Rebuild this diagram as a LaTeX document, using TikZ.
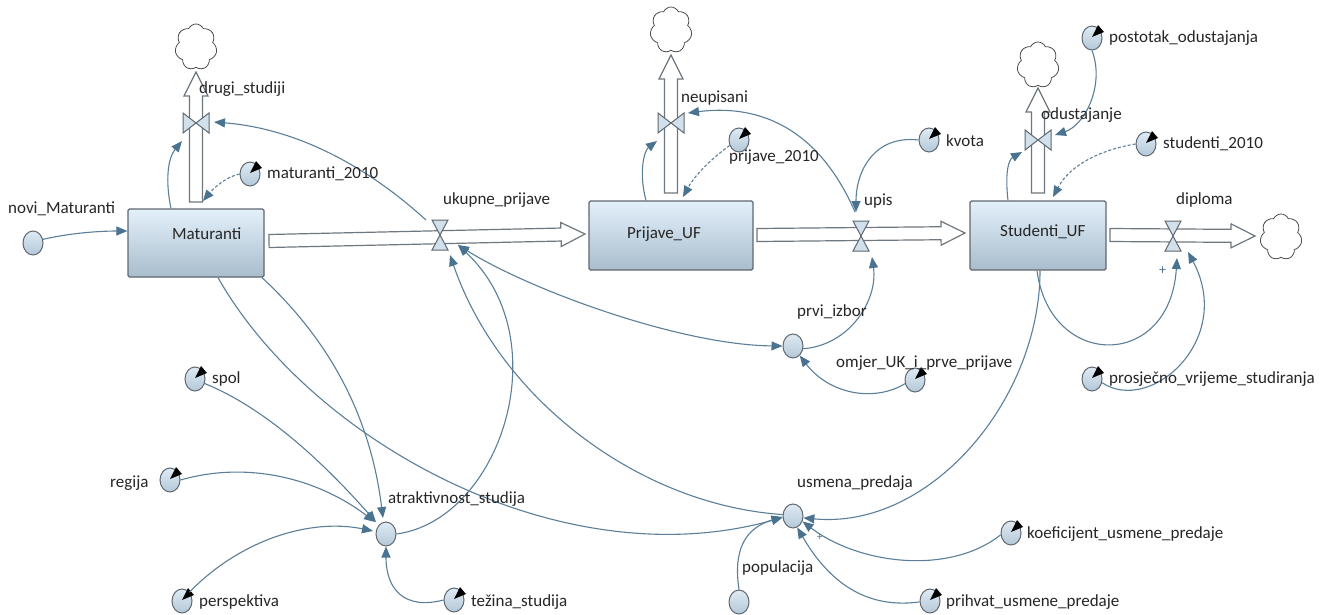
\documentclass[tikz,border=0pt]{standalone}
\usepackage{fontspec}
\setmainfont{Carlito}
\usetikzlibrary{calc,arrows.meta,shapes.symbols,shapes.geometric}
\definecolor{lnk}{HTML}{5B7F99}
\definecolor{lnkd}{HTML}{4A7391}
\definecolor{edge}{HTML}{5F6870}
\definecolor{stocktop}{HTML}{E3F0FA}
\definecolor{stockbot}{HTML}{A9BDCD}
\definecolor{auxtop}{HTML}{DFEAF3}
\definecolor{auxbot}{HTML}{B4C8D8}
\tikzset{
 stockbox/.style={draw=edge,line width=1.2pt,rounded corners=1.5pt,top color=stocktop,bottom color=stockbot,inner sep=0pt},
 auxc/.style={ellipse,draw=edge,line width=1pt,top color=auxtop,bottom color=auxbot,minimum width=20pt,minimum height=24pt,inner sep=0pt},
 lab/.style={inner sep=0pt,anchor=west,yshift=-2pt,font=\fontsize{17}{18}\selectfont,text=black!85},
 link/.style={draw=lnk,line width=1.1pt,-{Triangle[length=11pt,width=9pt,color=lnkd]}},
 dlink/.style={link,dash pattern=on 3pt off 2pt},
 dbl/.style={draw=lnk,line width=1.1pt,{Triangle[length=11pt,width=9pt,color=lnkd]}-{Triangle[length=11pt,width=9pt,color=lnkd]}},
 pipeline/.style={draw=edge!90,line width=1.2pt,fill=white,line join=miter},
 cloudn/.style={cloud,cloud puffs=7,cloud puff arc=130,aspect=0.93,draw=black!70,line width=.8pt,minimum width=42pt,minimum height=46pt,inner sep=0pt},
 valvefill/.style={draw=edge,line width=1pt,fill=auxtop!70!auxbot}
}
% pipe: tail, tip
\newcommand{\pipe}[2]{%
 \path (#2) coordinate (tp) ($(#2)!24pt!(#1)$) coordinate (bs);
 \draw[pipeline] ($(#1)!6.5pt!90:(#2)$) -- ($(bs)!6.5pt!90:(#2)$) -- ($(bs)!12pt!90:(#2)$) -- (tp) -- ($(bs)!12pt!-90:(#2)$) -- ($(bs)!6.5pt!-90:(#2)$) -- ($(#1)!6.5pt!-90:(#2)$) -- cycle;}
% constant: name, x, y
\newcommand{\cnst}[3]{%
 \node[auxc] (#1) at (#2,#3) {};
 \fill[black] (#2,#3) ++(0,-1) -- ++(6,-12) -- ++(6,7) -- cycle;}
\newcommand{\vvalve}[3]{% hourglass on a horizontal pipe
 \coordinate (#1) at (#2,#3);
 \draw[valvefill] (#1) -- ++(-8,-15) -- ++(16,0) -- cycle;
 \draw[valvefill] (#1) -- ++(-8,15) -- ++(16,0) -- cycle;}
\newcommand{\hvalve}[3]{% bowtie on a vertical pipe
 \coordinate (#1) at (#2,#3);
 \draw[valvefill] (#1) -- ++(-13,-10) -- ++(0,20) -- cycle;
 \draw[valvefill] (#1) -- ++(13,-10) -- ++(0,20) -- cycle;}
\begin{document}
\begin{tikzpicture}[x=1pt,y=-1pt]
\useasboundingbox (0,0) rectangle (1327,614);
\fill[white] (0,0) rectangle (1327,614);
% pipes
\coordinate (p1a) at (269,241); \coordinate (p1b) at (585,234);
\coordinate (p2a) at (757,235); \coordinate (p2b) at (965,233);
\coordinate (p3a) at (1110,235); \coordinate (p3b) at (1255,236);
\coordinate (pAa) at (196,202); \coordinate (pAb) at (196,72);
\coordinate (pBa) at (671,193); \coordinate (pBb) at (671,55);
\coordinate (pCa) at (1038,193); \coordinate (pCb) at (1038,88);
\pipe{p1a}{p1b}\pipe{p2a}{p2b}\pipe{p3a}{p3b}\pipe{pAa}{pAb}\pipe{pBa}{pBb}\pipe{pCa}{pCb}
% clouds
\node[cloudn] (c1) at (196,47) {};
\node[cloudn] (c2) at (671,30) {};
\node[cloudn] (c3) at (1038,65) {};
\node[cloudn] (c4) at (1281,237) {};
% stocks
\node[stockbox,minimum width=136pt,minimum height=68pt] (mat) at (196,243) {};
\node[stockbox,minimum width=164pt,minimum height=69pt] (prij) at (671,235.5) {};
\node[stockbox,minimum width=136pt,minimum height=69pt] (stud) at (1038,235.5) {};
% valves
\vvalve{vU}{440}{235}\vvalve{vUp}{861}{236}\vvalve{vD}{1173}{236}
\hvalve{vDS}{196}{123}\hvalve{vN}{671}{123}\hvalve{vO}{1038}{140}
% auxiliaries
\node[auxc] (novi) at (33,243) {};
\node[auxc] (prvi) at (793,346) {};
\node[auxc] (atr) at (386,534) {};
\node[auxc] (usm) at (793,516) {};
\node[auxc] (pop) at (739,602) {};
\cnst{m10}{250}{174}\cnst{post}{1092}{38}\cnst{s10}{1146}{144}\cnst{p10}{739}{140}
\cnst{kv}{929}{140}\cnst{omj}{915}{380}\cnst{pros}{1092}{379}\cnst{spol}{195}{379}
\cnst{reg}{170}{480}\cnst{persp}{182}{601}\cnst{tez}{454}{600}\cnst{prih}{930}{601}\cnst{koef}{1011}{533}
% connectors
\draw[link] (novi.20) .. controls (70,233) and (100,231) .. (mat.west|-0,231);
\draw[link] (mat.north-|171,0) .. controls (165,180) and (168,158) .. ($(vDS)+(-14,18)$);
\draw[dlink] (m10.west) .. controls (225,177) and (212,190) .. (203,201);
\draw[link] ($(vU)+(-14,-15)$) .. controls (360,160) and (290,128) .. ($(vDS)+(18,-1)$);
\draw[link] (mat.south-|262,0) .. controls (340,350) and (372,430) .. (383,518);
\draw[link] (mat.south-|218,0) .. controls (310,440) and (560,580) .. (usm.188);
\draw[link] (spol.-25) .. controls (270,410) and (330,470) .. (376,522);
\draw[link] (reg.east) .. controls (250,460) and (320,480) .. (375,522);
\draw[link] (persp.50) .. controls (240,540) and (310,518) .. (373,531);
\draw[link] (tez.west) .. controls (405,610) and (386,590) .. (atr.south);
\draw[link] (atr.east) .. controls (500,520) and (560,340) .. (458,245);
\draw[dbl] (458,245) .. controls (530,290) and (680,345) .. (prvi.west);
\draw[link] (usm.172) .. controls (640,505) and (500,400) .. (450,255);
\draw[link] (prvi.-15) .. controls (850,345) and (878,300) .. (872,257);
\draw[link] (omj.-160) .. controls (875,402) and (830,395) .. (prvi.-55);
\draw[link] (kv.west) .. controls (875,135) and (856,170) .. (856,212);
\draw[link] (855,212) .. controls (815,120) and (750,105) .. ($(vN)+(17,-10)$);
\draw[link] (prij.north-|646,0) .. controls (638,170) and (645,150) .. ($(vN)+(-14,18)$);
\draw[dlink] (p10.210) .. controls (710,160) and (695,175) .. (683,197);
\draw[link] (stud.north-|1008,0) .. controls (1005,175) and (1008,160) .. ($(vO)+(-16,12)$);
\draw[link] (post.south) .. controls (1105,85) and (1085,125) .. ($(vO)+(17,-5)$);
\draw[dlink] (s10.west) .. controls (1100,150) and (1070,165) .. (1053,197);
\draw[link] (stud.south-|1037,0) .. controls (1050,370) and (1170,370) .. (1177,258);
\draw[link] (pros.-20) .. controls (1150,415) and (1235,340) .. (1188,252);
\draw[link] (stud.south-|1040,0) .. controls (1040,400) and (930,530) .. (usm.-10);
\draw[link] (koef.-170) .. controls (950,575) and (860,565) .. (usm.-30);
\draw[link] (prih.-175) .. controls (860,610) and (825,575) .. (usm.-70);
\draw[link] (pop.north) .. controls (733,550) and (745,528) .. (usm.185);
% labels
\node[lab] at (8,207) {novi\_Maturanti};
\node[lab] at (172,232) {Maturanti};
\node[lab] at (199,87) {drugi\_studiji};
\node[lab] at (267,172) {maturanti\_2010};
\node[lab] at (443,198) {ukupne\_prijave};
\node[lab] at (627,232) {Prijave\_UF};
\node[lab] at (681,96) {neupisani};
\node[lab] at (729,155) {prijave\_2010};
\node[lab] at (946,139) {kvota};
\node[lab] at (864,199) {upis};
\node[lab] at (1000,230) {Studenti\_UF};
\node[lab] at (1041,113) {odustajanje};
\node[lab] at (1109,36) {postotak\_odustajanja};
\node[lab] at (1163,142) {studenti\_2010};
\node[lab] at (1176,198) {diploma};
\node[lab,text=lnkd,font=\fontsize{14}{14}\selectfont] at (1159,269) {+};
\node[lab] at (797,310) {prvi\_izbor};
\node[lab] at (836,361) {omjer\_UK\_i\_prve\_prijave};
\node[lab] at (1109,377) {prosječno\_vrijeme\_studiranja};
\node[lab] at (212,377) {spol};
\node[lab] at (110,481) {regija};
\node[lab] at (199,600) {perspektiva};
\node[lab] at (388,497) {atraktivnost\_studija};
\node[lab] at (471,600) {težina\_studija};
\node[lab] at (797,481) {usmena\_predaja};
\node[lab] at (742,566) {populacija};
\node[lab] at (1027,532) {koeficijent\_usmene\_predaje};
\node[lab] at (946,600) {prihvat\_usmene\_predaje};
\node[lab,text=lnkd,font=\fontsize{11}{11}\selectfont] at (817,535) {+};
\end{tikzpicture}
\end{document}
